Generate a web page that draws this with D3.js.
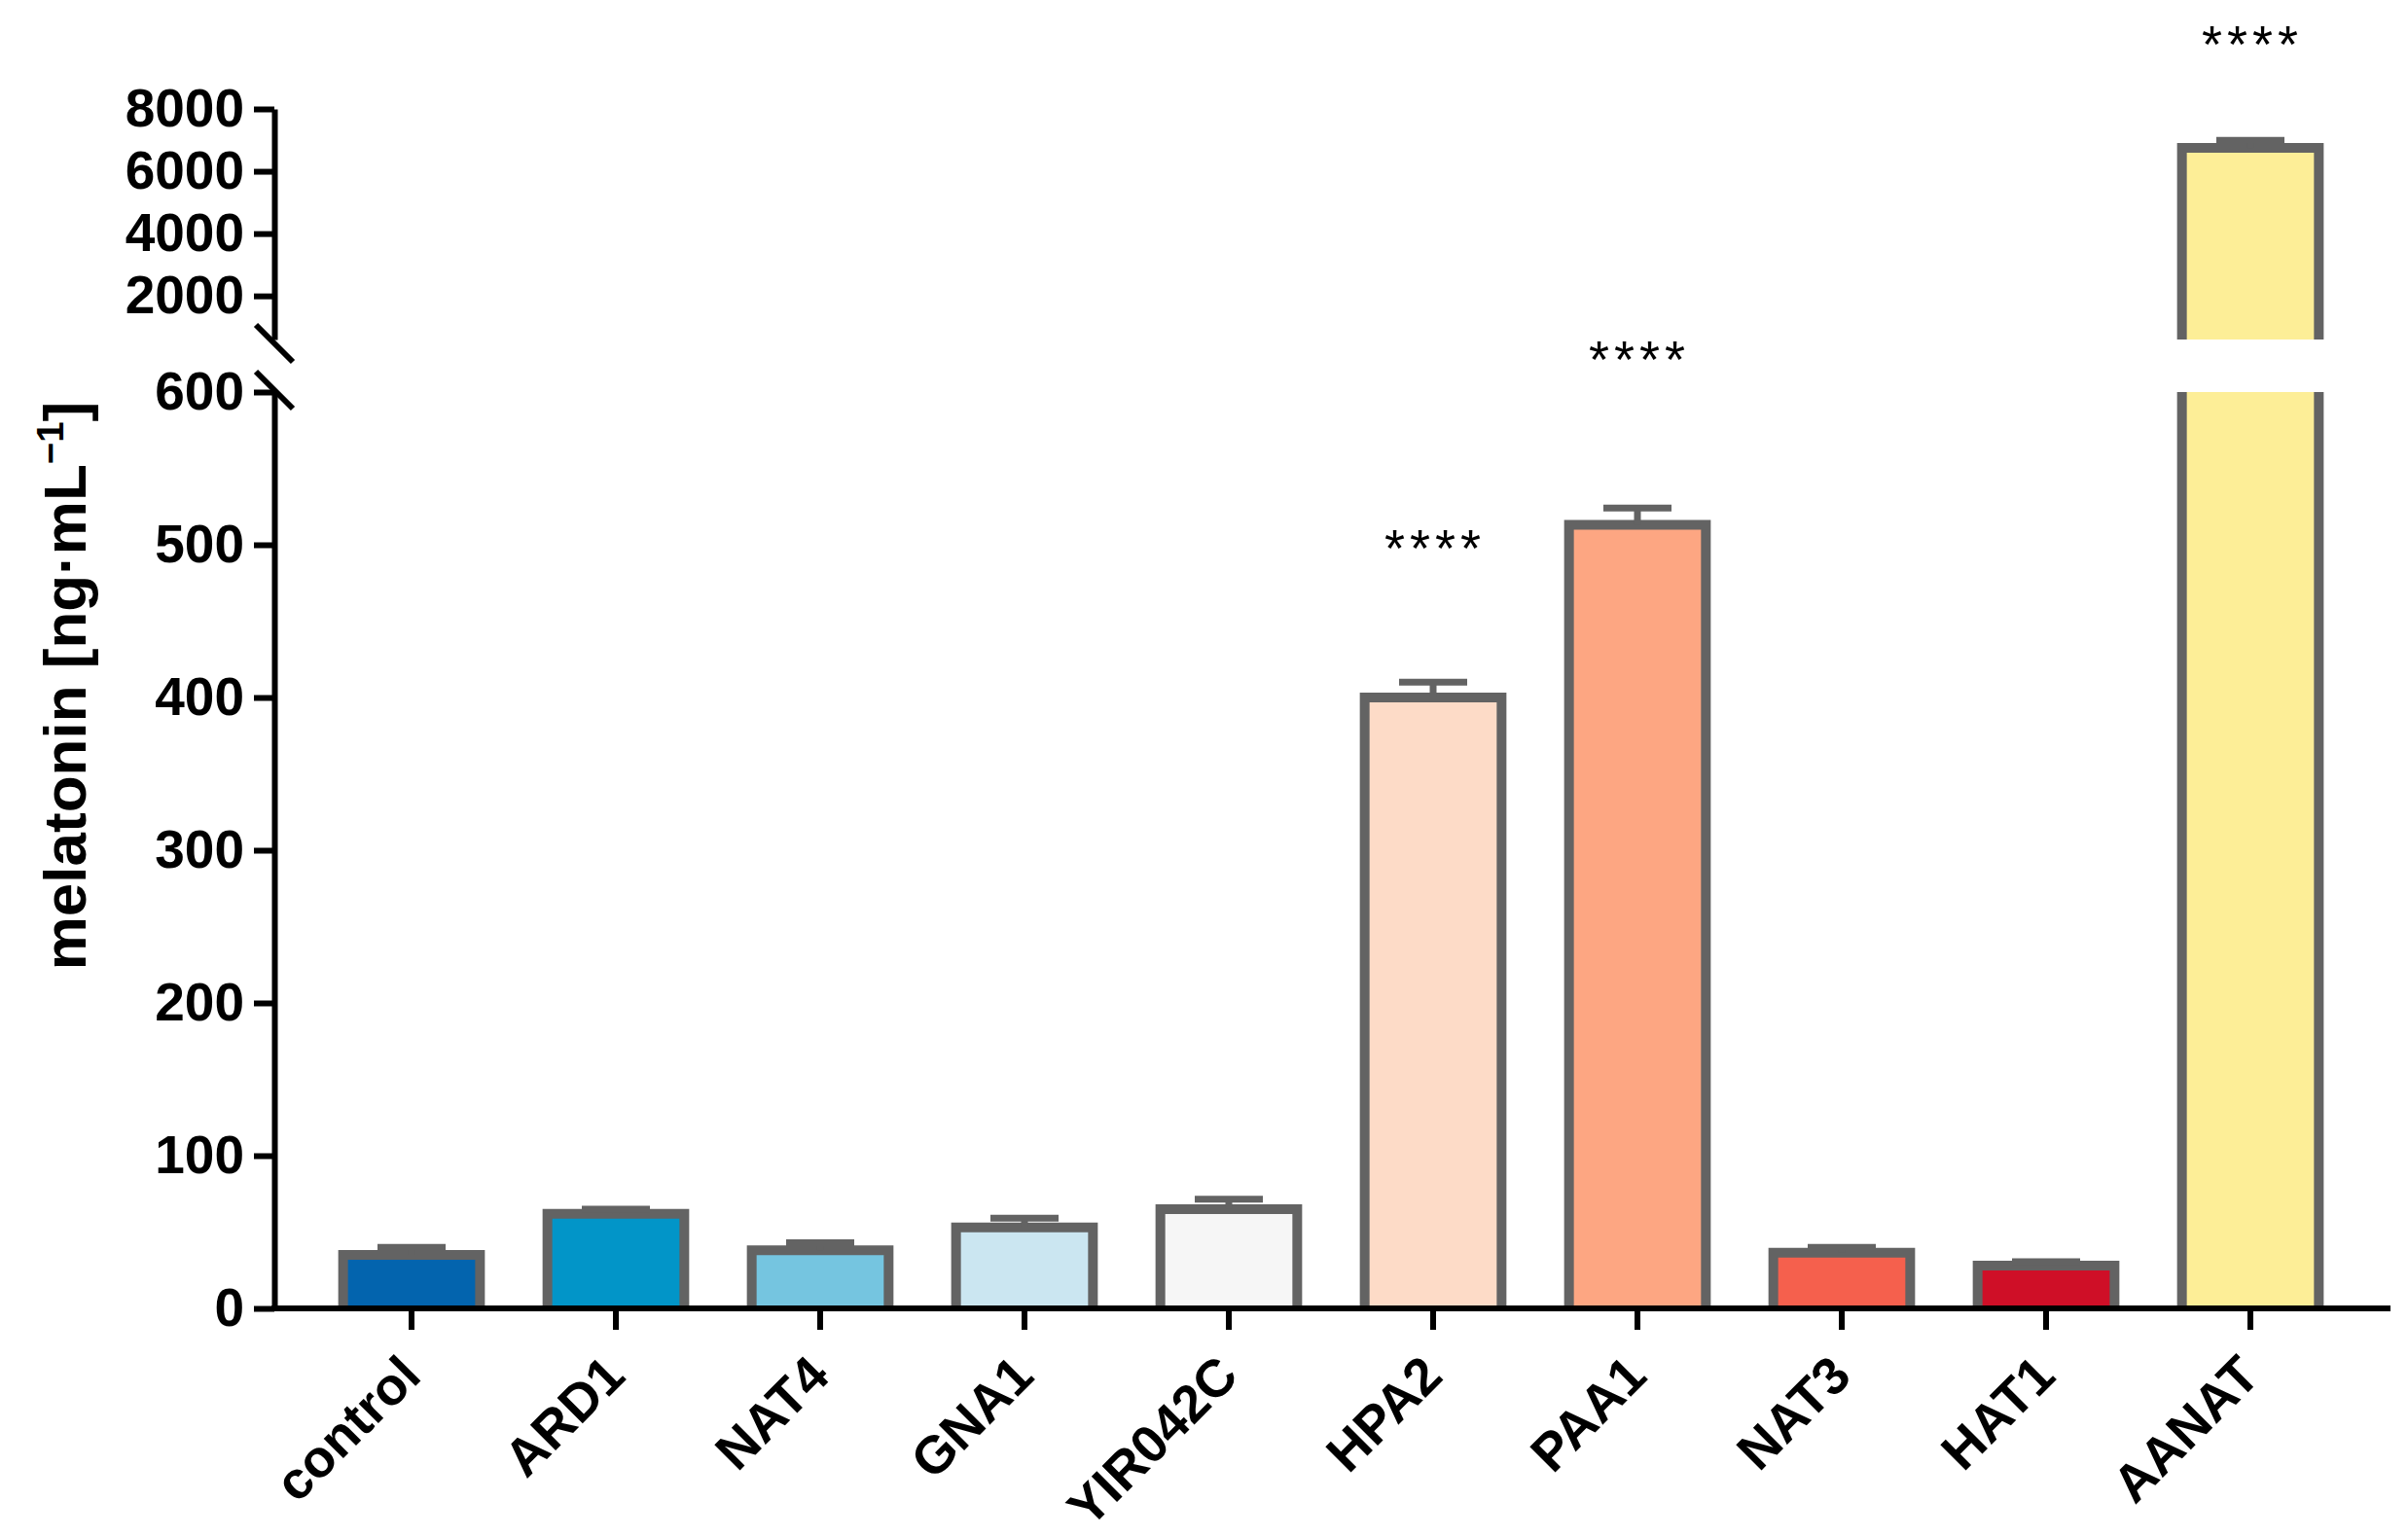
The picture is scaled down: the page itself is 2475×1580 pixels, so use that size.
<!DOCTYPE html>
<html>
<head>
<meta charset="utf-8">
<script src="https://cdn.jsdelivr.net/npm/d3@7"></script>
<style>
  body { margin: 0; background: #fff; }
  svg { display: block; }
</style>
</head>
<body>
<svg id="chart"></svg>
<script>
// data
const categories = ["control", "ARD1", "NAT4", "GNA1", "YIR042C", "HPA2", "PAA1", "NAT3", "HAT1", "AANAT"];
const means = [35, 62, 38, 53, 65, 400, 513, 36.5, 28, 6750];
const errors = [5, 3, 5, 6, 6.5, 10, 11, 3.5, 2.5, 240];
const barColors = ["#0364ae", "#0295c8", "#75c5e0", "#cbe6f1", "#f6f6f6", "#fddbc7", "#fda682", "#f5604d", "#cf0f27", "#fdee97"];
const lowerTicks = [0, 100, 200, 300, 400, 500, 600];
const upperTicks = [2000, 4000, 6000, 8000];
// significance marks: category and the level (in data units) of the star row
const starCats = ["HPA2", "PAA1", "AANAT"];
const starLevels = [502, 626, 10280];
const starText = "****";

const W = 2475, H = 1580;
const axisX = 282, baseY = 1345;
const breakLow = 600;

const svg = d3.select("#chart").attr("width", W).attr("height", H);

// x scale
const x = d3.scaleBand()
  .domain(categories)
  .range([318, 2418])
  .paddingInner(0.33)
  .paddingOuter(0.165);

// two y segments (broken axis)
const yLow = d3.scaleLinear().domain([0, breakLow]).range([baseY, 403]);
const yHigh = d3.scaleLinear().domain([breakLow, 8000]).range([349, 112]);

const barStroke = "#636363";
const bw = x.bandwidth();

const data = categories.map(function(c, i) {
  return {cat: c, mean: means[i], err: errors[i], color: barColors[i]};
});

// bars
const bars = svg.append("g");
data.forEach(function(d) {
  const x0 = x(d.cat), x1 = x0 + bw;
  if (d.mean <= breakLow) {
    const top = yLow(d.mean);
    bars.append("rect")
      .attr("x", x0).attr("y", top)
      .attr("width", bw).attr("height", baseY - top)
      .attr("fill", d.color);
    bars.append("path")
      .attr("d", `M${x0},${baseY}V${top}H${x1}V${baseY}`)
      .attr("fill", "none")
      .attr("stroke", barStroke)
      .attr("stroke-width", 10);
  } else {
    // lower piece, up to the break
    const lt = yLow(breakLow);
    bars.append("rect")
      .attr("x", x0).attr("y", lt)
      .attr("width", bw).attr("height", baseY - lt)
      .attr("fill", d.color);
    bars.append("path")
      .attr("d", `M${x0},${baseY}V${lt}M${x1},${lt}V${baseY}`)
      .attr("stroke", barStroke)
      .attr("stroke-width", 10);
    // upper piece
    const top = yHigh(d.mean), hb = yHigh(breakLow);
    bars.append("rect")
      .attr("x", x0).attr("y", top)
      .attr("width", bw).attr("height", hb - top)
      .attr("fill", d.color);
    bars.append("path")
      .attr("d", `M${x0},${hb}V${top}H${x1}V${hb}`)
      .attr("fill", "none")
      .attr("stroke", barStroke)
      .attr("stroke-width", 10);
  }
});

// error bars (upper half only)
const errG = svg.append("g")
  .attr("stroke", barStroke)
  .attr("stroke-width", 7)
  .attr("fill", "none");
data.forEach(function(d) {
  const yS = d.mean <= breakLow ? yLow : yHigh;
  const cx = x(d.cat) + bw / 2;
  const y0 = yS(d.mean), y1 = yS(d.mean + d.err);
  errG.append("line").attr("x1", cx).attr("x2", cx).attr("y1", y0).attr("y2", y1);
  errG.append("line").attr("x1", cx - 35).attr("x2", cx + 35).attr("y1", y1).attr("y2", y1);
});

// x axis
svg.append("line")
  .attr("x1", axisX - 3).attr("x2", 2457)
  .attr("y1", baseY).attr("y2", baseY)
  .attr("stroke", "#000").attr("stroke-width", 6);

const xAxis = svg.append("g")
  .attr("transform", `translate(0,${baseY})`)
  .call(d3.axisBottom(x).tickSize(22).tickFormat(""));
xAxis.select(".domain").remove();
xAxis.selectAll(".tick line").attr("stroke", "#000").attr("stroke-width", 6);

svg.append("g")
  .selectAll("text")
  .data(categories)
  .enter().append("text")
  .attr("transform", function(d) {
    return `translate(${x(d) + bw / 2 + 12},${1417}) rotate(-45)`;
  })
  .attr("text-anchor", "end")
  .style("font-family", "'Liberation Sans', Arial, sans-serif")
  .style("font-weight", "bold")
  .style("font-size", "54px")
  .text(function(d) { return d; });

// y axes
function styleAxis(g) {
  g.select(".domain").attr("stroke", "#000").attr("stroke-width", 6);
  g.selectAll(".tick line").attr("stroke", "#000").attr("stroke-width", 6);
  g.selectAll(".tick text")
    .style("font-family", "'Liberation Sans', Arial, sans-serif")
    .style("font-weight", "bold")
    .style("font-size", "55px")
    .attr("fill", "#000");
}

svg.append("g")
  .attr("transform", `translate(${axisX},0)`)
  .call(d3.axisLeft(yLow).tickValues(lowerTicks).tickSize(21).tickSizeOuter(0).tickPadding(10))
  .call(styleAxis);

svg.append("g")
  .attr("transform", `translate(${axisX},0)`)
  .call(d3.axisLeft(yHigh).tickValues(upperTicks).tickFormat(d3.format("d"))
    .tickSize(21).tickSizeOuter(0).tickPadding(10))
  .call(styleAxis);

// break marks
const brk = svg.append("g").attr("stroke", "#000").attr("stroke-width", 6);
[yHigh(breakLow) + 4, yLow(breakLow) - 2].forEach(function(cy) {
  brk.append("line")
    .attr("x1", axisX - 19).attr("y1", cy - 19)
    .attr("x2", axisX + 19).attr("y2", cy + 19);
});

// y label
svg.append("text")
  .attr("transform", `translate(88,705) rotate(-90)`)
  .attr("text-anchor", "middle")
  .style("font-family", "'Liberation Sans', Arial, sans-serif")
  .style("font-weight", "bold")
  .style("font-size", "62px")
  .call(function(t) {
    t.append("tspan").text("melatonin [ng·mL");
    t.append("tspan").attr("dy", "-0.6em").style("font-size", "0.62em").text("−1");
    t.append("tspan").attr("dy", "0.37em").text("]");
  });

// significance stars
svg.append("g")
  .selectAll("text")
  .data(starCats)
  .enter().append("text")
  .attr("x", function(d) { return x(d) + bw / 2 + 2; })
  .attr("y", function(d, i) {
    const v = starLevels[i];
    return v > 1000 ? yHigh(v) : yLow(v);
  })
  .attr("dy", "0.47em")
  .attr("text-anchor", "middle")
  .style("font-family", "'Liberation Sans', Arial, sans-serif")
  .style("font-size", "54px")
  .style("letter-spacing", "5px")
  .text(starText);
</script>
</body>
</html>
